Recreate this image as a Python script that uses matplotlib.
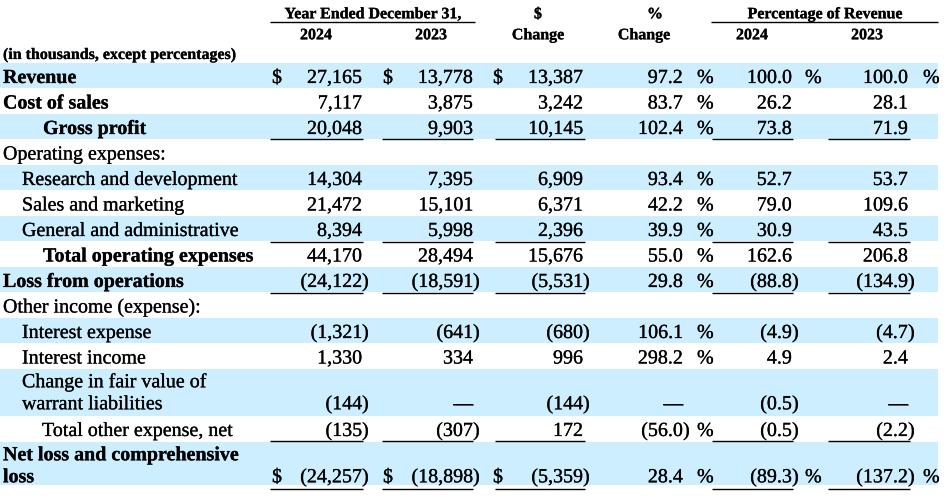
import matplotlib
matplotlib.use("Agg")
import matplotlib.pyplot as plt
from matplotlib.patches import Rectangle
import matplotlib.patheffects as pe

# ---------------- data ----------------
labels = ["Revenue", "Cost of sales", "Gross profit", "Operating expenses:",
          "Research and development", "Sales and marketing",
          "General and administrative", "Total operating expenses",
          "Loss from operations", "Other income (expense):",
          "Interest expense", "Interest income",
          "Change in fair value of\nwarrant liabilities",
          "Total other expense, net",
          "Net loss and comprehensive\nloss"]
val_2024 = [27165, 7117, 20048, None, 14304, 21472, 8394, 44170, -24122, None,
            -1321, 1330, -144, -135, -24257]
val_2023 = [13778, 3875, 9903, None, 7395, 15101, 5998, 28494, -18591, None,
            -641, 334, "—", -307, -18898]
dollar_change = [13387, 3242, 10145, None, 6909, 6371, 2396, 15676, -5531, None,
                 -680, 996, -144, 172, -5359]
pct_change = [97.2, 83.7, 102.4, None, 93.4, 42.2, 39.9, 55.0, 29.8, None,
              106.1, 298.2, "—", -56.0, 28.4]
pct_rev_2024 = [100.0, 26.2, 73.8, None, 52.7, 79.0, 30.9, 162.6, -88.8, None,
                -4.9, 4.9, -0.5, -0.5, -89.3]
pct_rev_2023 = [100.0, 28.1, 71.9, None, 53.7, 109.6, 43.5, 206.8, -134.9, None,
                -4.7, 2.4, "—", -2.2, -137.2]

header_group1 = "Year Ended December 31,"
header_group2 = "Percentage of Revenue"
header_years = ["2024", "2023"]
header_units = "(in thousands, except percentages)"

# ---------------- styling / layout ----------------
bold_rows = {0, 1, 2, 7, 8, 14}
indent = {0: 3, 1: 3, 2: 43, 3: 3, 4: 22, 5: 22, 6: 22, 7: 43, 8: 3, 9: 3,
          10: 22, 11: 22, 12: 22, 13: 42, 14: 3}
shaded_rows = {0, 2, 4, 6, 8, 10, 12, 14}
dollar_rows = {0, 14}
pctrev_sign_rows = {0, 14}
underline_rows = {2: 139, 6: 242, 8: 293, 13: 441, 14: 489}
row_heights = [25.5] * 12 + [47, 26, 43]
top0 = 62.5

FONT = ["Liberation Serif", "DejaVu Serif"]
FS = 14.4
HFS = 11.5
BLUE = "#CCEEFF"
EFFECT = [pe.withStroke(linewidth=0.4, foreground=(0, 0, 0, 0.4))]

fig = plt.figure(figsize=(9.49, 4.98), dpi=100)
ax = fig.add_axes([0, 0, 1, 1])
ax.set_xlim(0, 949)
ax.set_ylim(498, 0)
ax.axis("off")


def txt(x, y, s, ha="left", bold=False, size=FS):
    ax.text(x, y, s, ha=ha, va="baseline", fontsize=size, family=FONT,
            fontweight="bold" if bold else "normal", color="black",
            path_effects=EFFECT)


def fmt_num(v, decimals=0):
    if decimals:
        return f"{abs(v):,.{decimals}f}"
    return f"{abs(v):,.0f}"


def put_value(v, right, y, decimals=0):
    if v is None:
        return
    if isinstance(v, str):
        txt(right, y, v, ha="right")
        return
    s = fmt_num(v, decimals)
    if v < 0:
        txt(right, y, "(" + s, ha="right")
        txt(right, y, ")", ha="left")
    else:
        txt(right, y, s, ha="right")


# header
txt(373, 18.3, header_group1, ha="center", bold=True, size=HFS)
ax.plot([270, 475], [22, 22], color="black", lw=1.0, solid_capstyle="butt")
txt(825, 18.3, header_group2, ha="center", bold=True, size=HFS)
ax.plot([711, 938], [22, 22], color="black", lw=1.0, solid_capstyle="butt")
txt(316, 39.3, header_years[0], ha="center", bold=True, size=HFS)
txt(431, 39.3, header_years[1], ha="center", bold=True, size=HFS)
txt(538, 18.3, "$", ha="center", bold=True, size=HFS)
txt(538, 39.3, "Change", ha="center", bold=True, size=HFS)
txt(655, 18.3, "%", ha="center", bold=True, size=HFS)
txt(644, 39.3, "Change", ha="center", bold=True, size=HFS)
txt(752, 39.3, header_years[0], ha="center", bold=True, size=HFS)
txt(867, 39.3, header_years[1], ha="center", bold=True, size=HFS)
txt(3, 59, header_units, bold=True, size=HFS)

# column geometry
col_right = {"v24": 362, "v23": 473, "dc": 583, "pc": 683, "p24": 792, "p23": 908}
dollar_x = {"v24": 272, "v23": 383, "dc": 493}
pct_x = {"pc": 697, "p24": 805, "p23": 923}
ul_span = {"v24": (270, 363), "v23": (382, 473), "dc": (495, 585),
           "p24": (712, 793), "p23": (828, 910)}

top = top0
for i, lab in enumerate(labels):
    h = row_heights[i]
    if i in shaded_rows:
        ax.add_patch(Rectangle((0, top), 938, h, facecolor=BLUE,
                               edgecolor="none", zorder=0))
    lines = lab.split("\n")
    base0 = top + 20.5 if len(lines) == 1 else top + 18.8
    for k, ln in enumerate(lines):
        txt(indent[i], base0 + 22 * k, ln, bold=(i in bold_rows))
    yb = base0 + 22 * (len(lines) - 1)

    put_value(val_2024[i], col_right["v24"], yb)
    put_value(val_2023[i], col_right["v23"], yb)
    put_value(dollar_change[i], col_right["dc"], yb)
    put_value(pct_change[i], col_right["pc"], yb, 1)
    put_value(pct_rev_2024[i], col_right["p24"], yb, 1)
    put_value(pct_rev_2023[i], col_right["p23"], yb, 1)

    if i in dollar_rows:
        for c in ("v24", "v23", "dc"):
            txt(dollar_x[c], yb, "$")
    if isinstance(pct_change[i], (int, float)):
        txt(pct_x["pc"], yb, "%")
    if i in pctrev_sign_rows:
        txt(pct_x["p24"], yb, "%")
        txt(pct_x["p23"], yb, "%")

    if i in underline_rows:
        yl = underline_rows[i]
        for c, (a, b) in ul_span.items():
            ax.plot([a, b], [yl, yl], color="black", lw=1.0,
                    solid_capstyle="butt")
    top += h

fig.savefig("out.png", dpi=100)
